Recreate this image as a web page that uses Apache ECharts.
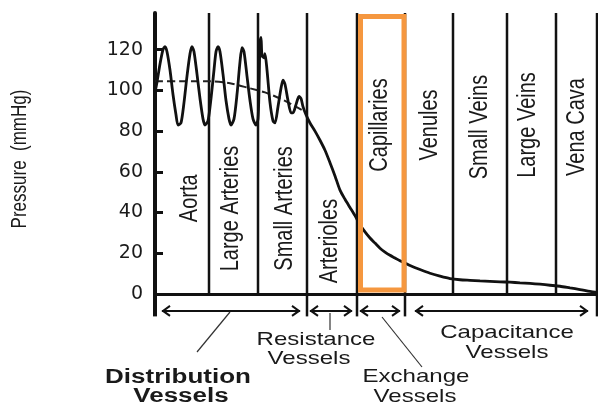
<!DOCTYPE html>
<html><head><meta charset="utf-8">
<script src="https://cdn.jsdelivr.net/npm/echarts@6/dist/echarts.min.js"></script>
<style>html,body{margin:0;padding:0;background:#fff}#c{width:598px;height:406px}</style>
</head><body><div id="c"></div>
<script>
// ---- data ----
const yTicks = [0, 20, 40, 60, 80, 100, 120];
const yAxisTitle = 'Pressure  (mmHg)';
// edges of the vessel segments along the circulation path (x units)
const boundaries = [0, 54, 103, 152, 202, 250, 298, 352, 401, 442];
const vesselNames = ['Aorta', 'Large Arteries', 'Small Arteries', 'Arterioles', 'Capillaries', 'Venules', 'Small Veins', 'Large Veins', 'Vena Cava'];
const vesselLabelX = [35, 76, 130, 175, 225, 275, 325, 373, 422];
const vesselLabelY = [47, 42, 42, 26, 83, 83, 82, 83, 82];
// pressure trace (mmHg)
const pressureX = [0,2,5,8,10,12,15,18,21,23,26,29,32,35,37,39,42,45,48,50,53,56,59,61,63,65,68,71,74,76,79,82,85,87,89,92,95,98,101,103,104,105,106,107,109,110,112,115,118,120,123,126,128,130,133,136,138,141,144,146,148,151,155,160,165,170,175,180,185,190,195,200,205,210,215,220,225,230,235,240,245,250,255,265,275,285,295,305,315,325,335,345,355,365,375,385,395,405,415,425,435,442];
const pressureY = [99,104,113,120,121.5,119,110,98,88,83,84,94,107,118,121.5,119,108,96,86,83,85,96,110,119,121.5,119,108,95,86,83,86,98,114,121,119,107,95,86,83,86,100,124,126,117,116,118,110,94,85,84,92,101,105,103,95,89,89,93,97,96,92,88,84,80,75.5,70.6,64.5,58,51,46.5,42.5,38.5,34,30.5,27.5,25,22.5,20.6,19,17.7,16.3,15.2,14,12,10.2,8.8,7.6,7,6.7,6.4,6.2,6,5.8,5.5,5.2,4.8,4.3,3.8,3.0,2.2,1.3,0.8];
// mean pressure (dashed)
const meanX = [0, 25, 55, 75, 95, 110, 125, 137, 148];
const meanY = [104.5, 104.5, 104.5, 103.5, 101, 99, 96, 93, 90];
// functional groups shown with arrows below the axis
const groupNames = ['Distribution Vessels', 'Resistance Vessels', 'Exchange Vessels', 'Capacitance Vessels'];
const groupFrom = [7, 155, 205, 260];
const groupTo = [145, 197, 245, 433];
const separatorX = [0, 152, 202, 250, 442];

// ---- chart ----
const chart = echarts.init(document.getElementById('c'));
const INK = '#111';
const FONT = '"Liberation Sans", Arial, sans-serif';
const Y_MAX = 138;
const pressure = pressureX.map((x, i) => [x, pressureY[i]]);
const mean = meanX.map((x, i) => [x, meanY[i]]);

function txt(x, y, s, size, bold) {
  return { type: 'text', x: x, y: y, scaleX: 1.3, z: 20,
    style: { text: s, fontFamily: FONT, fontSize: size, fontWeight: bold ? 'bold' : 'normal',
      fill: '#1a1a1a', align: 'center', verticalAlign: 'middle' } };
}
function seg(x1, y1, x2, y2) {
  return { type: 'line', z: 20, shape: { x1, y1, x2, y2 }, style: { stroke: '#333', lineWidth: 1.2 } };
}
const [g1, g2, g3, g4] = groupNames.map(n => n.split(' '));

chart.setOption({
  animation: false,
  backgroundColor: '#fff',
  grid: { left: 155, right: 1, top: 13, bottom: 112, containLabel: false },
  xAxis: {
    type: 'value', min: 0, max: boundaries[boundaries.length - 1],
    axisLine: { show: true, lineStyle: { color: INK, width: 3 } },
    axisTick: { show: false }, axisLabel: { show: false }, splitLine: { show: false }
  },
  yAxis: {
    type: 'value', min: 0, max: Y_MAX,
    axisLine: { show: true, lineStyle: { color: INK, width: 4 } },
    axisTick: { show: true, inside: true, length: 8, lineStyle: { color: INK, width: 3 }, customValues: yTicks },
    axisLabel: { customValues: yTicks, fontFamily: '"DejaVu Sans", sans-serif', fontSize: 19, color: '#1a1a1a', margin: 12 },
    splitLine: { show: false }
  },
  series: [
    { // vessel boundary lines
      type: 'custom', silent: true, z: 1, clip: false,
      data: boundaries.slice(1).map(b => [b, 0]),
      renderItem: function (params, api) {
        const x = api.value(0);
        const p0 = api.coord([x, 0]), p1 = api.coord([x, Y_MAX]);
        return { type: 'line', shape: { x1: p0[0], y1: p0[1], x2: p1[0], y2: p1[1] },
          style: { stroke: INK, lineWidth: 2.5 } };
      }
    },
    { // separators under the axis
      type: 'custom', silent: true, z: 1, clip: false,
      data: separatorX.map(b => [b, 0]),
      renderItem: function (params, api) {
        const x = api.value(0);
        const p0 = api.coord([x, 0]), p1 = api.coord([x, -11]);
        return { type: 'line', shape: { x1: p0[0], y1: p0[1], x2: p1[0], y2: p1[1] },
          style: { stroke: INK, lineWidth: x === 0 ? 4 : 2.5 } };
      }
    },
    { // group arrows
      type: 'custom', silent: true, z: 2, clip: false,
      data: groupFrom.map((f, i) => [f, -8.3, groupTo[i]]),
      encode: { x: 0, y: 1 },
      renderItem: function (params, api) {
        const a = api.coord([api.value(0), api.value(1)]);
        const b = api.coord([api.value(2), api.value(1)]);
        const st = { stroke: INK, lineWidth: 2, fill: null };
        return { type: 'group', children: [
          { type: 'line', shape: { x1: a[0], y1: a[1], x2: b[0], y2: b[1] }, style: st },
          { type: 'polyline', shape: { points: [[a[0] + 8, a[1] - 5], [a[0] + 1, a[1]], [a[0] + 8, a[1] + 5]] }, style: st },
          { type: 'polyline', shape: { points: [[b[0] - 8, b[1] - 5], [b[0] - 1, b[1]], [b[0] - 8, b[1] + 5]] }, style: st }
        ] };
      }
    },
    { // vessel names
      type: 'custom', silent: true, z: 4, clip: false,
      data: vesselLabelX.map((x, i) => [x, vesselLabelY[i], i]),
      encode: { x: 0, y: 1 },
      renderItem: function (params, api) {
        const p = api.coord([api.value(0), api.value(1)]);
        return { type: 'text', x: p[0], y: p[1], rotation: Math.PI / 2, scaleY: 1.3,
          style: { text: vesselNames[api.value(2)], fontFamily: FONT, fontSize: 20, fill: '#1a1a1a',
            align: 'center', verticalAlign: 'middle' } };
      }
    },
    { // mean pressure
      type: 'line', data: mean, symbol: 'none', z: 3, smooth: 0.3,
      lineStyle: { color: '#222', width: 2, type: [8, 4] }
    },
    { // pressure trace
      type: 'line', data: pressure, symbol: 'none', z: 3, smooth: 0.25,
      lineStyle: { color: INK, width: 2.8 }
    },
    { // exchange (capillary) highlight box
      type: 'custom', silent: true, z: 6, clip: false,
      data: [[boundaries[4], 0, boundaries[5]]],
      encode: { x: 0, y: 1 },
      renderItem: function (params, api) {
        const a = api.coord([api.value(0), 0]);
        const b = api.coord([api.value(2), Y_MAX]);
        return { type: 'rect', shape: { x: a[0] + 3.5, y: b[1] + 3.5, width: b[0] - a[0] - 4.5, height: a[1] - b[1] - 7.5 },
          style: { stroke: '#F5973F', lineWidth: 5, fill: null } };
      }
    }
  ],
  graphic: [
    { type: 'text', x: 20, y: 159, rotation: Math.PI / 2, scaleY: 1.3, z: 20,
      style: { text: yAxisTitle, fontFamily: FONT, fontSize: 17, fill: '#1a1a1a', align: 'center', verticalAlign: 'middle' } },
    seg(230, 312, 197, 352),
    seg(330, 313, 330, 330),
    seg(382, 317, 422, 367),
    txt(178, 377, g1[0], 20, true),
    txt(181, 396, g1[1], 20, true),
    txt(316, 340, g2[0], 18.5),
    txt(309, 359, g2[1], 18.5),
    txt(416, 377, g3[0], 18.5),
    txt(415, 397, g3[1], 18.5),
    txt(507, 333, g4[0], 18.5),
    txt(507, 353, g4[1], 18.5)
  ]
});
</script>
</body></html>
